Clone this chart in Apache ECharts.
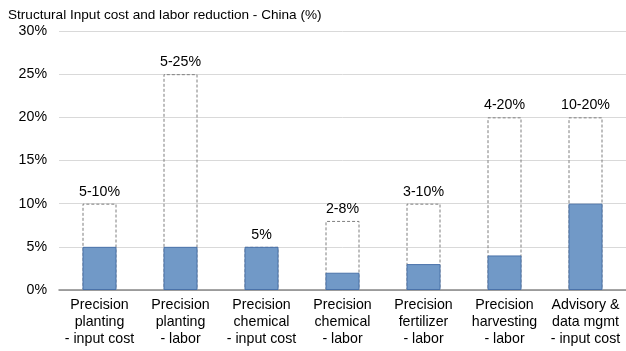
<!DOCTYPE html>
<html>
<head>
<meta charset="utf-8">
<style>
  html, body { margin: 0; padding: 0; background: #fff; }
  #chart { width: 626px; height: 351px; }
</style>
<script src="https://cdn.jsdelivr.net/npm/echarts@6/dist/echarts.min.js"></script>
</head>
<body>
<div id="chart"></div>
<script>
// Categories (practice - reduction type)
const categories = [
  'Precision\nplanting\n- input cost',
  'Precision\nplanting\n- labor',
  'Precision\nchemical\n- input cost',
  'Precision\nchemical\n- labor',
  'Precision\nfertilizer\n- labor',
  'Precision\nharvesting\n- labor',
  'Advisory &\ndata mgmt\n- input cost'
];
// Low end of the reduction range (%)
const lowValues = [5, 5, 5, 2, 3, 4, 10];
// High end of the reduction range (%)
const highValues = [10, 25, 5, 8, 10, 20, 20];
// Range labels shown above each column
const rangeLabels = ['5-10%', '5-25%', '5%', '2-8%', '3-10%', '4-20%', '10-20%'];
// Y axis ticks
const yTicks = [0, 5, 10, 15, 20, 25, 30];

const font = 'Liberation Sans, Arial, sans-serif';
const chart = echarts.init(document.getElementById('chart'), null, { renderer: 'canvas' });

chart.setOption({
  animation: false,
  backgroundColor: '#ffffff',
  title: {
    text: 'Structural Input cost and labor reduction - China (%)',
    left: 3,
    top: 3,
    textStyle: { fontFamily: font, fontSize: 13.6, fontWeight: 'normal', color: '#000' }
  },
  grid: { left: 59, top: 31, width: 571, height: 259, containLabel: false },
  xAxis: {
    type: 'category',
    data: categories,
    axisLine: { lineStyle: { color: '#868686', width: 1.5 } },
    axisTick: { show: false },
    axisLabel: {
      interval: 0,
      margin: 7,
      fontFamily: font,
      fontSize: 14.2,
      lineHeight: 17,
      color: '#000'
    }
  },
  yAxis: {
    type: 'value',
    min: yTicks[0],
    max: yTicks[yTicks.length - 1],
    interval: 5,
    axisLine: { show: false },
    axisTick: { show: false },
    splitLine: { lineStyle: { color: '#d9d9d9', width: 1 } },
    axisLabel: {
      margin: 12,
      fontFamily: font,
      fontSize: 14.2,
      color: '#000',
      formatter: v => v + '%'
    }
  },
  series: [
    {
      name: 'High',
      type: 'bar',
      data: highValues,
      barWidth: 34,
      barGap: '-100%',
      z: 2,
      itemStyle: {
        color: 'rgba(255,255,255,0)',
        borderColor: '#7f7f7f',
        borderWidth: 1,
        borderType: [3, 2]
      },
      label: {
        show: true,
        position: 'top',
        distance: 5,
        fontFamily: font,
        fontSize: 14.2,
        color: '#000',
        formatter: p => rangeLabels[p.dataIndex]
      }
    },
    {
      name: 'Low',
      type: 'bar',
      data: lowValues,
      barWidth: 34,
      barGap: '-100%',
      z: 3,
      itemStyle: {
        color: '#7199c7',
        borderColor: '#4a72a9',
        borderWidth: 1
      }
    }
  ]
});
</script>
</body>
</html>
